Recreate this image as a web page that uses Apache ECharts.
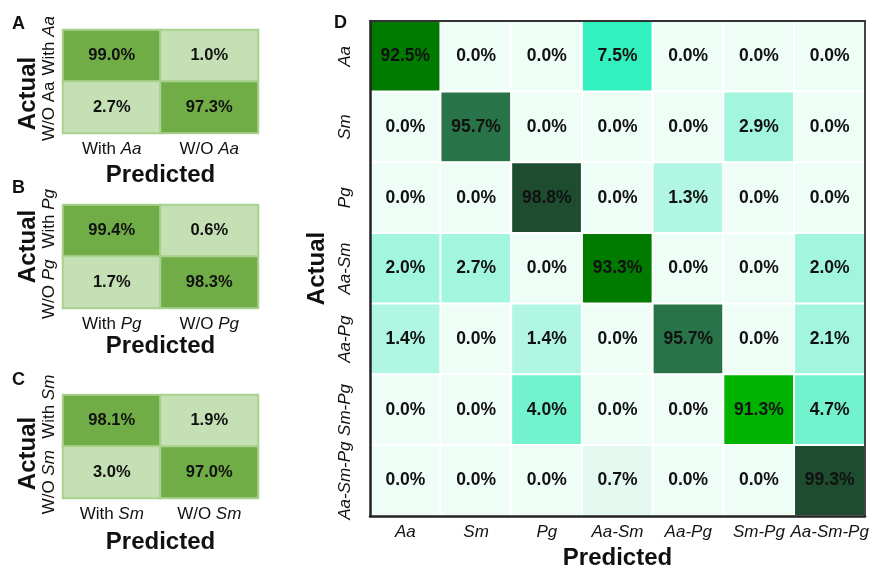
<!DOCTYPE html>
<html>
<head>
<meta charset="utf-8">
<script src="https://cdn.jsdelivr.net/npm/echarts@6/dist/echarts.min.js"></script>
<style>
  html, body { margin: 0; padding: 0; background: #fff; }
  #chart { width: 883px; height: 572px; }
</style>
</head>
<body>
<div id="chart"></div>
<script>
// Binary confusion matrices (rows = actual, columns = predicted), in percent
const binA = [[99.0, 1.0], [2.7, 97.3]];
const binB = [[99.4, 0.6], [1.7, 98.3]];
const binC = [[98.1, 1.9], [3.0, 97.0]];
const binLabelsA = ['With Aa', 'W/O Aa'];
const binLabelsB = ['With Pg', 'W/O Pg'];
const binLabelsC = ['With Sm', 'W/O Sm'];

// Multi-class confusion matrix
const classes = ['Aa', 'Sm', 'Pg', 'Aa-Sm', 'Aa-Pg', 'Sm-Pg', 'Aa-Sm-Pg'];
const multi = [
  [92.5, 0.0, 0.0, 7.5, 0.0, 0.0, 0.0],
  [0.0, 95.7, 0.0, 0.0, 0.0, 2.9, 0.0],
  [0.0, 0.0, 98.8, 0.0, 1.3, 0.0, 0.0],
  [2.0, 2.7, 0.0, 93.3, 0.0, 0.0, 2.0],
  [1.4, 0.0, 1.4, 0.0, 95.7, 0.0, 2.1],
  [0.0, 0.0, 4.0, 0.0, 0.0, 91.3, 4.7],
  [0.0, 0.0, 0.0, 0.7, 0.0, 0.0, 99.3]
];

const FONT = '"Liberation Sans", Arial, sans-serif';
const INK = '#111';

function toCells(m) {
  const out = [];
  m.forEach((row, r) => row.forEach((v, c) => out.push([c, r, v])));
  return out;
}

// Species abbreviations are set in italics
function italicFmt(val) {
  const parts = val.split(' ');
  if (parts.length === 2) return parts[0] + ' {i|' + parts[1] + '}';
  return '{i|' + val + '}';
}

const binPanels = [
  { top: 30, labels: binLabelsA, data: binA, predGap: 30, rowShift: [-10, 4], plainRows: [false, true], actualShift: 12 },
  { top: 205, labels: binLabelsB, data: binB, predGap: 26, rowShift: [-12, 7], plainRows: [false, false], actualShift: -10 },
  { top: 395, labels: binLabelsC, data: binC, predGap: 32, rowShift: [-14, 10], plainRows: [false, false], actualShift: 7 }
];

const grids = [], xAxes = [], yAxes = [], series = [];

binPanels.forEach((p, i) => {
  grids.push({ left: 63, top: p.top, width: 195, height: 103, outerBoundsMode: 'none' });
  xAxes.push({
    type: 'category', gridIndex: i, data: p.labels,
    axisLine: { show: false }, axisTick: { show: false },
    axisLabel: {
      interval: 0, margin: 8, fontFamily: FONT, fontSize: 17, color: INK,
      formatter: italicFmt,
      rich: { i: { fontStyle: 'italic', fontFamily: FONT, fontSize: 17, color: INK } }
    },
    name: 'Predicted', nameLocation: 'middle', nameGap: p.predGap,
    nameTextStyle: { fontFamily: FONT, fontWeight: 'bold', fontSize: 24, color: INK }
  });
  // rotated row labels are nudged along the axis with rich-text padding
  const base = { fontFamily: FONT, fontSize: 17, color: INK };
  const s0 = Math.abs(p.rowShift[0]) * 2, s1 = Math.abs(p.rowShift[1]) * 2;
  yAxes.push({
    type: 'category', gridIndex: i, data: p.labels, inverse: true,
    axisLine: { show: false }, axisTick: { show: false },
    axisLabel: {
      interval: 0, rotate: 90, margin: 5, fontFamily: FONT, fontSize: 17, color: INK,
      formatter: function (val, idx) {
        const parts = val.split(' ');
        const italic = !p.plainRows[idx];
        if (idx === 0) {
          return '{h0|' + parts[0] + ' }{' + (italic ? 'i' : 'n') + '|' + parts[1] + '}';
        }
        return '{n|' + parts[0] + ' }{' + (italic ? 't1i' : 't1') + '|' + parts[1] + '}';
      },
      rich: {
        n: base,
        i: Object.assign({}, base, { fontStyle: 'italic' }),
        h0: Object.assign({}, base, { padding: [0, 0, 0, s0] }),
        t1: Object.assign({}, base, { padding: [0, s1, 0, 0] }),
        t1i: Object.assign({}, base, { fontStyle: 'italic', padding: [0, s1, 0, 0] })
      }
    },
    name: 'Actual', nameLocation: 'middle', nameGap: 21, nameRotate: 90,
    nameTextStyle: {
      fontFamily: FONT, fontWeight: 'bold', fontSize: 24, color: INK,
      padding: p.actualShift > 0 ? [0, p.actualShift * 2, 0, 0] : [0, 0, 0, -p.actualShift * 2]
    }
  });
  series.push({
    type: 'heatmap', xAxisIndex: i, yAxisIndex: i, data: toCells(p.data),
    itemStyle: { borderColor: '#a9d18e', borderWidth: 2 },
    label: {
      show: true, fontFamily: FONT, fontWeight: 'bold', fontSize: 16.5, color: INK,
      formatter: (q) => q.value[2].toFixed(1) + '%'
    },
    emphasis: { disabled: true }
  });
});

// Panel D
grids.push({ left: 370, top: 21, width: 495, height: 495, outerBoundsMode: 'none' });
xAxes.push({
  type: 'category', gridIndex: 3, data: classes, z: 5,
  axisLine: { lineStyle: { color: '#222', width: 2.5 } },
  axisTick: { alignWithLabel: true, length: 6, lineStyle: { color: '#888', width: 2 } },
  axisLabel: { interval: 0, margin: 8, fontFamily: FONT, fontStyle: 'italic', fontSize: 17, color: INK },
  name: 'Predicted', nameLocation: 'middle', nameGap: 29,
  nameTextStyle: { fontFamily: FONT, fontWeight: 'bold', fontSize: 24, color: INK }
});
// frame on the top edge
xAxes.push({
  type: 'category', gridIndex: 3, data: classes, position: 'top', z: 5,
  axisLine: { lineStyle: { color: '#333', width: 2 } },
  axisTick: { show: false }, axisLabel: { show: false }
});
yAxes.push({
  type: 'category', gridIndex: 3, data: classes, inverse: true, z: 5,
  axisLine: { lineStyle: { color: '#222', width: 2.5 } },
  axisTick: { alignWithLabel: true, length: 6, lineStyle: { color: '#888', width: 2 } },
  axisLabel: { interval: 0, rotate: 90, margin: 16, fontFamily: FONT, fontStyle: 'italic', fontSize: 17, color: INK },
  name: 'Actual', nameLocation: 'middle', nameGap: 40, nameRotate: 90,
  nameTextStyle: { fontFamily: FONT, fontWeight: 'bold', fontSize: 24, color: INK }
});
// frame on the right edge
yAxes.push({
  type: 'category', gridIndex: 3, data: classes, inverse: true, position: 'right', z: 5,
  axisLine: { lineStyle: { color: '#444', width: 2 } },
  axisTick: { show: false }, axisLabel: { show: false }
});
series.push({
  type: 'heatmap', xAxisIndex: 3, yAxisIndex: 3, data: toCells(multi),
  itemStyle: { borderColor: '#ffffff', borderWidth: 2 },
  label: {
    show: true, fontFamily: FONT, fontWeight: 'bold', fontSize: 17.5, color: INK,
    formatter: (q) => q.value[2].toFixed(1) + '%'
  },
  emphasis: { disabled: true }
});

const option = {
  backgroundColor: '#ffffff',
  animation: false,
  grid: grids,
  xAxis: xAxes,
  yAxis: yAxes,
  visualMap: [
    {
      type: 'piecewise', show: false, seriesIndex: [0, 1, 2], dimension: 2,
      pieces: [
        { min: 0, max: 50, color: '#c5e0b4' },
        { min: 50, max: 100, color: '#70ad47' }
      ]
    },
    {
      type: 'piecewise', show: false, seriesIndex: 3, dimension: 2,
      pieces: [
        { min: 0, max: 0.5, color: '#effdf7' },
        { min: 0.5, max: 1, color: '#e4faf1' },
        { min: 1, max: 1.8, color: '#b1f6e2' },
        { min: 1.8, max: 3.5, color: '#a3f6de' },
        { min: 3.5, max: 6, color: '#73f3cd' },
        { min: 6, max: 50, color: '#33f1be' },
        { min: 50, max: 92, color: '#00b300' },
        { min: 92, max: 94, color: '#007b00' },
        { min: 94, max: 97, color: '#287448' },
        { min: 97, max: 100, color: '#1d4c2e' }
      ]
    }
  ],
  graphic: [
    { type: 'text', left: 12, top: 15, style: { text: 'A', font: 'bold 18px ' + FONT, fill: INK } },
    { type: 'text', left: 12, top: 179, style: { text: 'B', font: 'bold 18px ' + FONT, fill: INK } },
    { type: 'text', left: 12, top: 371, style: { text: 'C', font: 'bold 18px ' + FONT, fill: INK } },
    { type: 'text', left: 334, top: 14, style: { text: 'D', font: 'bold 18px ' + FONT, fill: INK } }
  ],
  series: series
};

echarts.init(document.getElementById('chart'), null, { renderer: 'canvas' }).setOption(option);
</script>
</body>
</html>
